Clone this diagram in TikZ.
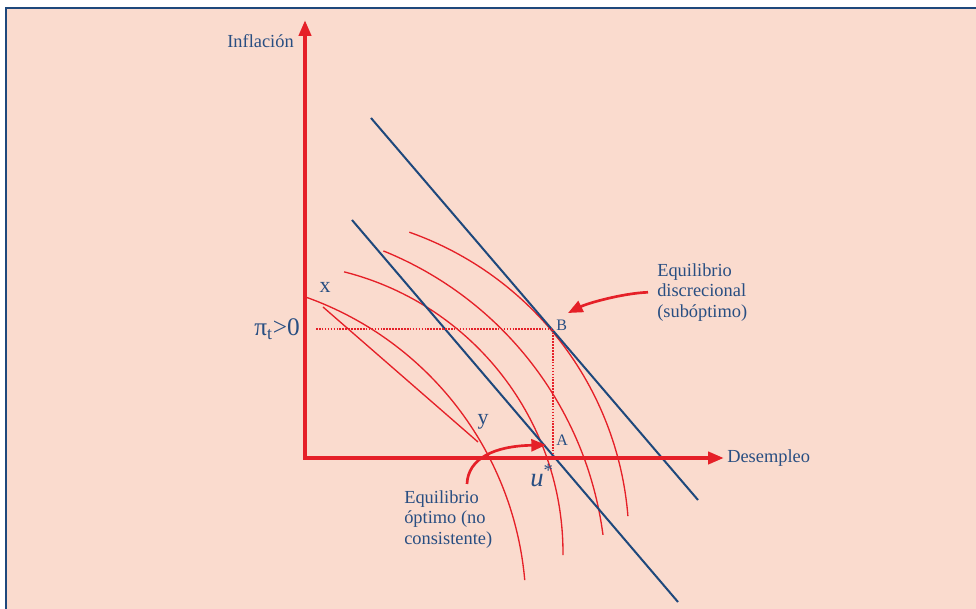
\documentclass[tikz,border=0pt]{standalone}
\usepackage{xcolor}
\usepackage{fontspec}
\setmainfont{Liberation Serif}
\usepackage{tikz}
\usetikzlibrary{arrows.meta}

\definecolor{peach}{RGB}{250,219,206}
\definecolor{curvered}{RGB}{229,32,40}
\definecolor{lineblue}{RGB}{30,72,124}
\definecolor{textblue}{RGB}{40,78,130}

\tikzset{
  axisline/.style={draw=curvered, line width=3.6pt, line join=miter, {Triangle[length=12pt,width=9pt]}-{Triangle[length=12pt,width=9pt]}},
  losscurve/.style={draw=curvered, line width=1pt},
  phillips/.style={draw=lineblue, line width=1.5pt},
  guide/.style={draw=curvered, line width=1.7pt, dash pattern=on 1.2pt off 1pt},
  pointer/.style={draw=curvered, line width=2pt, -{Triangle[length=11pt,width=9pt]}},
  lbl/.style={text=textblue, inner sep=0.75pt, font=\fontsize{13.8}{15.5}\selectfont},
}

\begin{document}
\begin{tikzpicture}[x=0.75pt,y=0.75pt,yscale=-1,xscale=1]
        \useasboundingbox (0,0) rectangle (976,609);
        \fill [white] (0,0) rectangle (976,609);
        \fill [peach] (6,8) rectangle (976,609);
        \draw [lineblue, line width=1.1pt] (6,609) -- (6,8) -- (976,8);

        \coordinate (O) at (305,458);
        \coordinate (B) at (553,329);
        \coordinate (A) at (553,458);
        \coordinate (xpt) at (323,307);
        \coordinate (ypt) at (478,442);
        \coordinate (Btip) at (568,313);
        \coordinate (optstart) at (467,484);
        \coordinate (Atip) at (546,445);

        % loss curves
        \draw [losscurve] (195,609) ++(-70.25:331) arc [start angle=-70.25, end angle=-5, radius=331];
        \draw [losscurve] (273,553) ++(-75.8:290) arc [start angle=-75.8, end angle=0.4, radius=290];
        \draw [losscurve] (250,581) ++(-68:356) arc [start angle=-68, end angle=-7.45, radius=356];
        \draw [losscurve] (300,542.5) ++(-70.6:329) arc [start angle=-70.6, end angle=-4.6, radius=329];
        \draw [losscurve] (xpt) -- (ypt);

        % phillips curves
        \draw [phillips] (371,118) -- (698,500);
        \draw [phillips] (352,220) -- (678,602);

        \draw [guide] (316,329) -- (B) -- (A);
        \draw [axisline] (305,20) -- (O) -- (724,458);

        \node (inflacion) [lbl, anchor=east] at (295,41) {Inflación};
        \node (desempleo) [lbl, anchor=west] at (726,458) {Desempleo};
        \node (pit) [lbl, anchor=base east, font=\fontsize{19}{21}\selectfont] at (301,336) {π\textsubscript{t}>0};
        \node (xlbl) [lbl, font=\fontsize{16.5}{18}\selectfont] at (325,287) {x};
        \node (ylbl) [lbl, font=\fontsize{16.5}{18}\selectfont] at (483,422) {y};
        \node (blbl) [lbl, anchor=west, font=\fontsize{12}{14}\selectfont] at (555,325) {B};
        \node (albl) [lbl, anchor=west, font=\fontsize{12}{14}\selectfont] at (555,440) {A};
        \node (ustar) [lbl, font=\fontsize{20}{22}\selectfont] at (542,476) {\textit{u}\textsuperscript{*}};
        \node (discr) [lbl, anchor=north west, align=left] at (656,262) {Equilibrio\\discrecional\\(subóptimo)};
        \node (optimo) [lbl, anchor=north west, align=left] at (403,489) {Equilibrio\\óptimo (no\\consistente)};

        \draw [pointer] ([xshift=-6pt]discr.west) .. controls +(-25,1) and +(20,-10) .. (Btip);
        \draw [pointer] (optstart) .. controls (468,458) and (495,446) .. (Atip);
\end{tikzpicture}
\end{document}
